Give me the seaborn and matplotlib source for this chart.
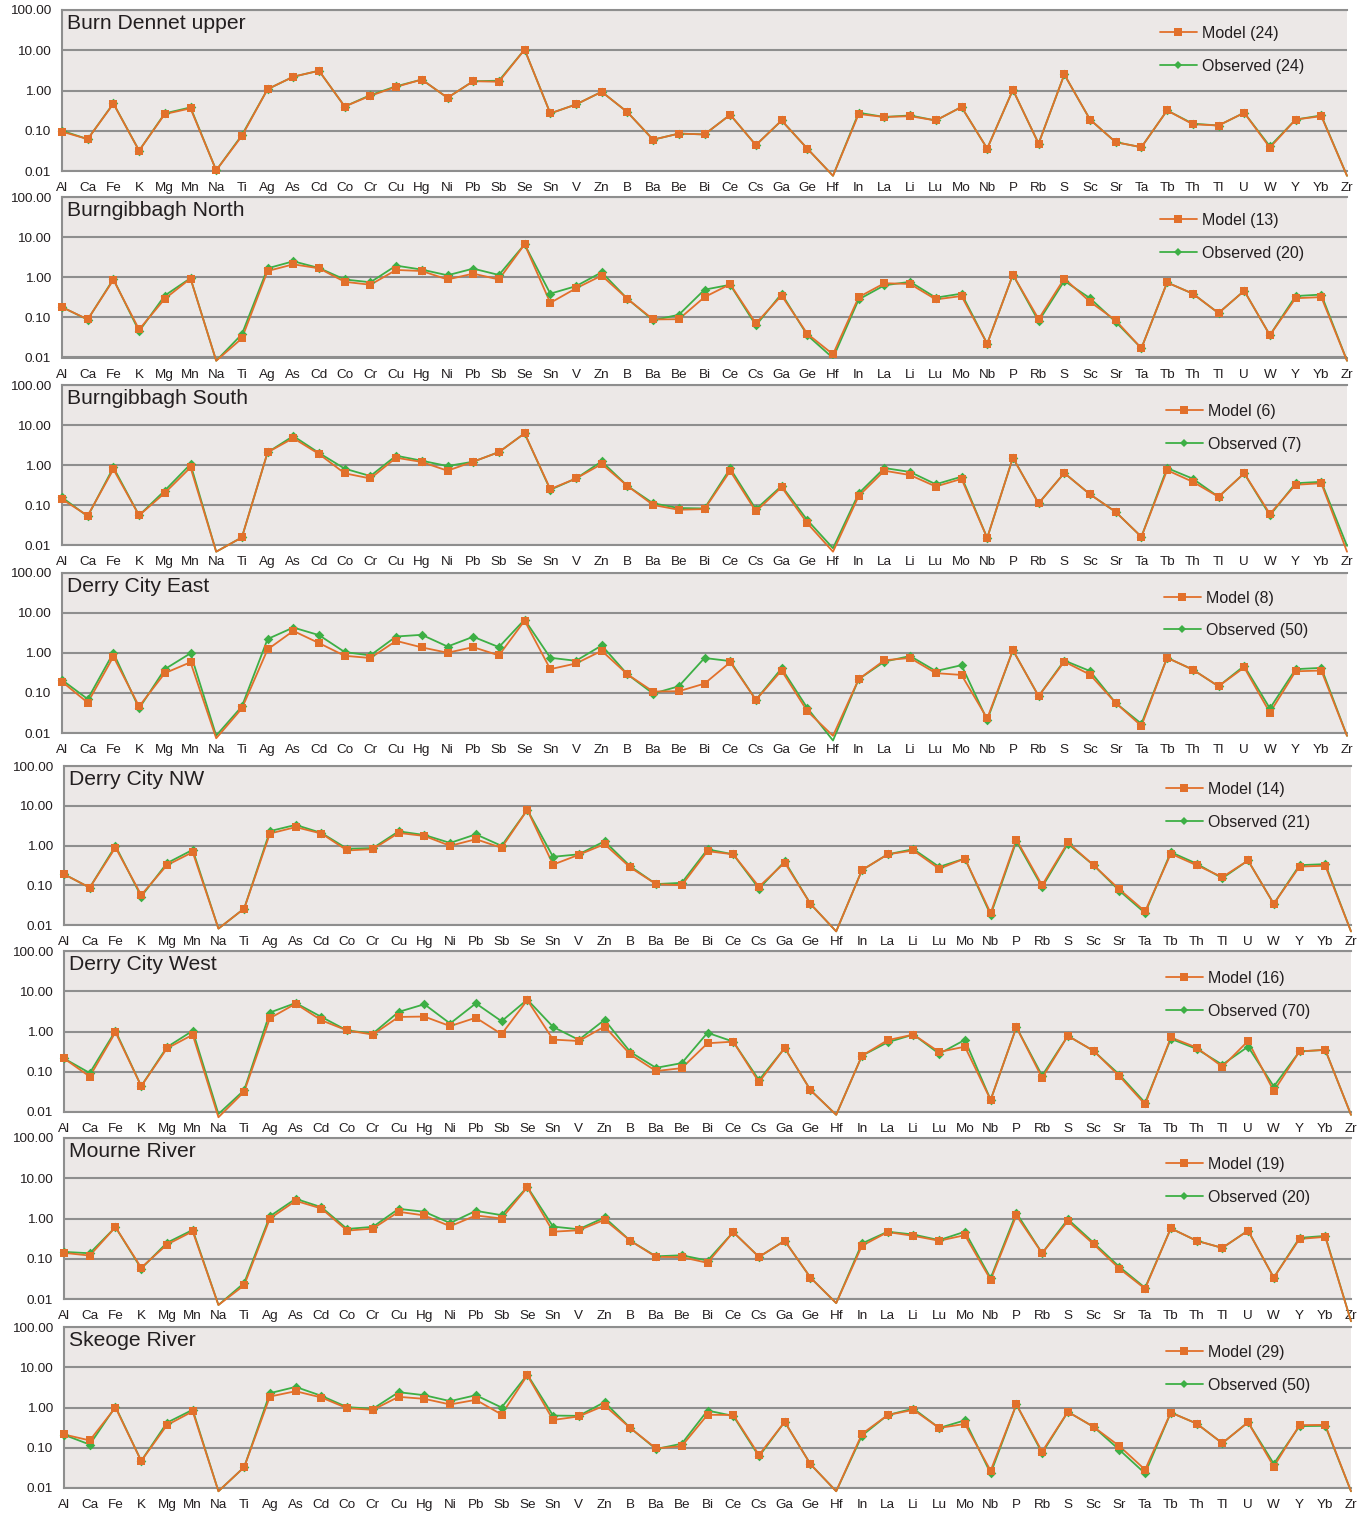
import numpy as np
import pandas as pd
import matplotlib
matplotlib.use("Agg")
import matplotlib.pyplot as plt
from matplotlib.lines import Line2D
import seaborn as sns

elements = ["Al", "Ca", "Fe", "K", "Mg", "Mn", "Na", "Ti", "Ag", "As", "Cd", "Co", "Cr", "Cu",
            "Hg", "Ni", "Pb", "Sb", "Se", "Sn", "V", "Zn", "B", "Ba", "Be", "Bi", "Ce", "Cs",
            "Ga", "Ge", "Hf", "In", "La", "Li", "Lu", "Mo", "Nb", "P", "Rb", "S", "Sc", "Sr",
            "Ta", "Tb", "Th", "Tl", "U", "W", "Y", "Yb", "Zr"]

sites = ["Burn Dennet upper", "Burngibbagh North", "Burngibbagh South", "Derry City East",
         "Derry City NW", "Derry City West", "Mourne River", "Skeoge River"]
model_counts = [24, 13, 6, 8, 14, 16, 19, 29]
observed_counts = [24, 20, 7, 50, 21, 70, 20, 50]

burn_dennet_model = [.095, .062, .47, .032, .26, .36, .0104, .074, 1.08, 2.2, 3.1, .40, .74, 1.23,
                     1.87, .66, 1.7, 1.65, 10.4, .27, .45, .93, .29, .06, .085, .081, .25, .044,
                     .18, .036, .0076, .26, .22, .23, .18, .39, .036, 1.04, .048, 2.5, .19, .052,
                     .039, .32, .145, .135, .28, .038, .19, .23, .0076]
burn_dennet_obs = [.10, .062, .48, .032, .27, .38, .0104, .078, 1.08, 2.2, 3.1, .40, .77, 1.27,
                   1.87, .66, 1.7, 1.75, 10.4, .27, .45, .93, .29, .06, .085, .081, .25, .044,
                   .18, .036, .0076, .28, .22, .24, .18, .39, .036, 1.04, .048, 2.5, .19, .052,
                   .039, .32, .15, .135, .28, .041, .19, .24, .0076]

burngibbagh_n_model = [.18, .089, .86, .05, .29, .93, .0083, .030, 1.43, 2.1, 1.67, .77, .65, 1.52,
                       1.43, .88, 1.23, .88, 6.6, .23, .53, 1.1, .29, .089, .09, .32, .67, .071,
                       .35, .039, .012, .32, .71, .68, .28, .34, .022, 1.16, .091, .93, .245, .084,
                       .017, .74, .39, .128, .46, .036, .30, .32, .0083]
burngibbagh_n_obs = [.18, .088, .90, .045, .35, .95, .0083, .038, 1.67, 2.5, 1.70, .88, .75, 1.95,
                     1.55, 1.12, 1.64, 1.14, 6.6, .39, .60, 1.33, .29, .085, .116, .49, .65, .063,
                     .39, .036, .0097, .28, .63, .77, .31, .39, .022, 1.16, .08, .81, .30, .077,
                     .017, .74, .39, .128, .46, .036, .34, .37, .0083]

burngibbagh_s_model = [.14, .054, .78, .055, .20, .87, .0068, .0155, 2.07, 4.7, 1.88, .62, .46, 1.52,
                       1.19, .72, 1.21, 2.1, 6.2, .25, .46, 1.06, .30, .10, .076, .079, .71, .069,
                       .28, .035, .0068, .168, .72, .56, .29, .45, .015, 1.52, .11, .63, .185, .067,
                       .016, .74, .38, .16, .62, .06, .32, .35, .0068]
burngibbagh_s_obs = [.155, .052, .87, .055, .23, 1.05, .0068, .0155, 2.07, 5.3, 2.0, .81, .53, 1.71,
                     1.28, .94, 1.21, 2.1, 6.2, .24, .46, 1.23, .30, .11, .084, .082, .82, .078,
                     .30, .042, .0083, .195, .84, .67, .33, .51, .015, 1.52, .11, .63, .185, .067,
                     .016, .84, .455, .16, .62, .055, .35, .38, .0095]

derry_e_model = [.19, .057, .80, .046, .31, .58, .0074, .041, 1.21, 3.5, 1.74, .84, .74, 1.98,
                 1.36, 1.0, 1.38, .86, 6.3, .39, .54, 1.12, .29, .108, .11, .17, .58, .067,
                 .36, .035, .0085, .22, .65, .74, .31, .28, .023, 1.16, .083, .60, .285, .056,
                 .015, .75, .38, .146, .43, .032, .345, .36, .0085]
derry_e_obs = [.21, .07, 1.0, .041, .39, .97, .0086, .046, 2.2, 4.25, 2.75, 1.04, .86, 2.54,
               2.8, 1.43, 2.5, 1.38, 6.7, .75, .63, 1.52, .29, .096, .146, .74, .62, .067,
               .41, .042, .0065, .22, .60, .83, .35, .49, .021, 1.16, .083, .64, .35, .056,
               .017, .75, .38, .146, .47, .041, .39, .42, .0085]

derry_nw_model = [.19, .087, .89, .057, .32, .68, .0081, .026, 2.0, 2.9, 2.0, .75, .81, 2.07,
                  1.74, .98, 1.44, .875, 7.9, .33, .585, 1.08, .28, .107, .10, .72, .60, .092,
                  .37, .034, .0069, .24, .60, .75, .26, .47, .020, 1.41, .10, 1.19, .32, .079,
                  .022, .62, .32, .16, .42, .034, .295, .31, .0069]
derry_nw_obs = [.19, .087, .98, .052, .36, .78, .0081, .026, 2.3, 3.3, 2.07, .83, .86, 2.27,
                1.84, 1.16, 1.91, .98, 7.9, .52, .60, 1.28, .30, .107, .115, .80, .60, .082,
                .40, .034, .0069, .24, .60, .81, .29, .47, .018, 1.28, .09, 1.1, .32, .073,
                .020, .68, .35, .15, .42, .034, .32, .34, .0069]

derry_w_model = [.214, .076, .96, .044, .38, .83, .0074, .032, 2.14, 4.9, 1.9, 1.06, .84, 2.3,
                 2.35, 1.36, 2.2, .86, 6.0, .63, .58, 1.33, .27, .104, .123, .51, .56, .055,
                 .39, .035, .0085, .25, .61, .84, .31, .42, .020, 1.28, .07, .78, .33, .078,
                 .0155, .71, .40, .133, .58, .033, .32, .35, .0085]
derry_w_obs = [.214, .093, 1.04, .044, .41, 1.04, .0089, .035, 2.96, 5.1, 2.3, 1.06, .89, 3.07,
               4.76, 1.58, 5.0, 1.8, 6.2, 1.3, .62, 1.95, .31, .125, .164, .93, .56, .062,
               .39, .035, .0085, .25, .54, .84, .28, .62, .020, 1.28, .08, .78, .33, .085,
               .017, .66, .37, .15, .42, .043, .32, .35, .0085]

mourne_model = [.14, .12, .61, .060, .225, .48, .0071, .022, 1.0, 2.75, 1.77, .50, .56, 1.47,
                1.19, .64, 1.19, 1.0, 5.9, .47, .51, .93, .28, .111, .11, .079, .46, .111,
                .28, .034, .0079, .21, .46, .37, .28, .385, .030, 1.19, .137, .86, .23, .057,
                .018, .57, .28, .186, .50, .034, .31, .35, .0028]
mourne_obs = [.148, .137, .61, .057, .25, .52, .0071, .025, 1.14, 3.09, 1.91, .55, .62, 1.74,
              1.47, .77, 1.55, 1.21, 6.1, .63, .54, 1.06, .28, .115, .122, .09, .46, .111,
              .28, .034, .0079, .24, .47, .40, .29, .47, .033, 1.38, .137, .96, .25, .063,
              .019, .57, .28, .186, .50, .034, .33, .37, .0028]

skeoge_model = [.214, .152, 1.0, .047, .365, .80, .0083, .033, 1.87, 2.54, 1.77, .96, .875, 1.84,
                1.64, 1.19, 1.55, .67, 6.3, .49, .60, 1.12, .31, .096, .11, .66, .65, .066,
                .44, .039, .0083, .22, .65, .875, .31, .39, .027, 1.19, .08, .78, .33, .11,
                .0285, .75, .40, .13, .43, .034, .365, .37, .0083]
skeoge_obs = [.21, .12, 1.05, .047, .42, .88, .0083, .033, 2.27, 3.25, 1.95, 1.02, .93, 2.4,
              2.02, 1.44, 2.02, 1.0, 6.6, .63, .62, 1.36, .31, .093, .126, .84, .62, .061,
              .44, .039, .0083, .20, .65, .94, .31, .48, .023, 1.19, .074, .78, .33, .089,
              .023, .75, .40, .13, .43, .04, .345, .35, .0083]

model_series = [burn_dennet_model, burngibbagh_n_model, burngibbagh_s_model, derry_e_model,
                derry_nw_model, derry_w_model, mourne_model, skeoge_model]
observed_series = [burn_dennet_obs, burngibbagh_n_obs, burngibbagh_s_obs, derry_e_obs,
                   derry_nw_obs, derry_w_obs, mourne_obs, skeoge_obs]

ytick_vals = [0.01, 0.1, 1, 10, 100]
ytick_labels = ["0.01", "0.10", "1.00", "10.00", "100.00"]

# ---------------------------------------------------------------- style
sns.set_style("white")
plt.rcParams["font.family"] = ["Liberation Sans", "DejaVu Sans"]

ORANGE = "#E2702B"
GREEN = "#3DAF45"
GRID = "#8E8E8E"
BG = "#ECE8E7"
TXT = "#231F20"
colors = {"Model": ORANGE, "Observed": GREEN}
markers = {"Model": "s", "Observed": "D"}
msize = {"Model": 38, "Observed": 24}

W, H = 1368, 1513
fig = plt.figure(figsize=(W / 100, H / 100), dpi=100)
fig.patch.set_facecolor("white")

tops = [10, 197, 385, 572.5, 766, 951, 1138, 1327]
bots = [171, 357.5, 545, 733, 925, 1112, 1299, 1488]
lefts = [62, 62, 62, 62, 64, 64, 64, 64]
rights = [1347, 1347, 1347, 1347, 1351, 1351, 1351, 1351]
leg_x = [1160, 1160, 1166, 1164, 1166, 1166, 1166, 1166]
leg_dy = [16, 16, 19, 18, 16, 20, 19, 18]

x_pos = np.arange(len(elements))

for i, site in enumerate(sites):
    l, r, t, b = lefts[i], rights[i], tops[i], bots[i]
    ax = fig.add_axes([l / W, 1 - b / H, (r - l) / W, (b - t) / H])
    ax.set_facecolor(BG)

    df = pd.concat([
        pd.DataFrame({"pos": x_pos, "value": observed_series[i], "series": "Observed"}),
        pd.DataFrame({"pos": x_pos, "value": model_series[i], "series": "Model"}),
    ], ignore_index=True)

    for ser in ["Observed", "Model"]:
        sub = df[df["series"] == ser]
        sns.lineplot(data=sub, x="pos", y="value", color=colors[ser], linewidth=1.3,
                     estimator=None, sort=False, ax=ax, legend=False, clip_on=False, zorder=3)
        vis = sub[sub["value"] >= 0.0099]
        sns.scatterplot(data=vis, x="pos", y="value", color=colors[ser], marker=markers[ser],
                        s=msize[ser], linewidth=0, ax=ax, legend=False, clip_on=False, zorder=4)

    ax.set_yscale("log")
    ax.set_ylim(0.01, 100)
    ax.set_xlim(0, len(elements) - 1)
    ax.set_yticks(ytick_vals)
    ax.set_yticklabels(ytick_labels)
    ax.yaxis.set_minor_locator(matplotlib.ticker.NullLocator())
    ax.set_xticks(x_pos)
    ax.set_xticklabels(elements)
    ax.set_xlabel("")
    ax.set_ylabel("")
    ax.tick_params(axis="both", which="major", labelsize=9.7, colors=TXT, length=4,
                   width=1, direction="out", pad=3)
    ax.tick_params(axis="x", color=GRID, pad=4)
    ax.tick_params(axis="y", color=GRID, pad=4)
    for tl in ax.get_yticklabels():
        tl.set_color(TXT)
    ax.grid(axis="y", which="major", color=GRID, linewidth=1.5, zorder=1)
    ax.grid(axis="x", visible=False)
    ax.set_axisbelow(True)
    for side in ["top", "bottom", "left"]:
        ax.spines[side].set_visible(True)
        ax.spines[side].set_color(GRID)
        ax.spines[side].set_linewidth(1.5)
    ax.spines["right"].set_visible(False)

    ax.annotate(site, xy=(0, 1), xycoords="axes fraction", xytext=(5, -4),
                textcoords="offset pixels", ha="left", va="top", fontsize=15.2, color=TXT)

    handles = [
        Line2D([], [], color=ORANGE, linewidth=1.3, marker="s", markersize=5.5,
               markerfacecolor=ORANGE, markeredgewidth=0),
        Line2D([], [], color=GREEN, linewidth=1.3, marker="D", markersize=4.5,
               markerfacecolor=GREEN, markeredgewidth=0),
    ]
    labels = [f"Model ({model_counts[i]})", f"Observed ({observed_counts[i]})"]
    leg = ax.legend(handles, labels, loc="upper left",
                    bbox_to_anchor=((leg_x[i] - l) / (r - l), 1 - leg_dy[i] / (b - t)),
                    frameon=False, fontsize=11.5, handlelength=2.3, handletextpad=0.3,
                    labelspacing=1.1, borderpad=0, borderaxespad=0)
    for txt in leg.get_texts():
        txt.set_color(TXT)

fig.savefig("out.png", dpi=100, facecolor="white")
